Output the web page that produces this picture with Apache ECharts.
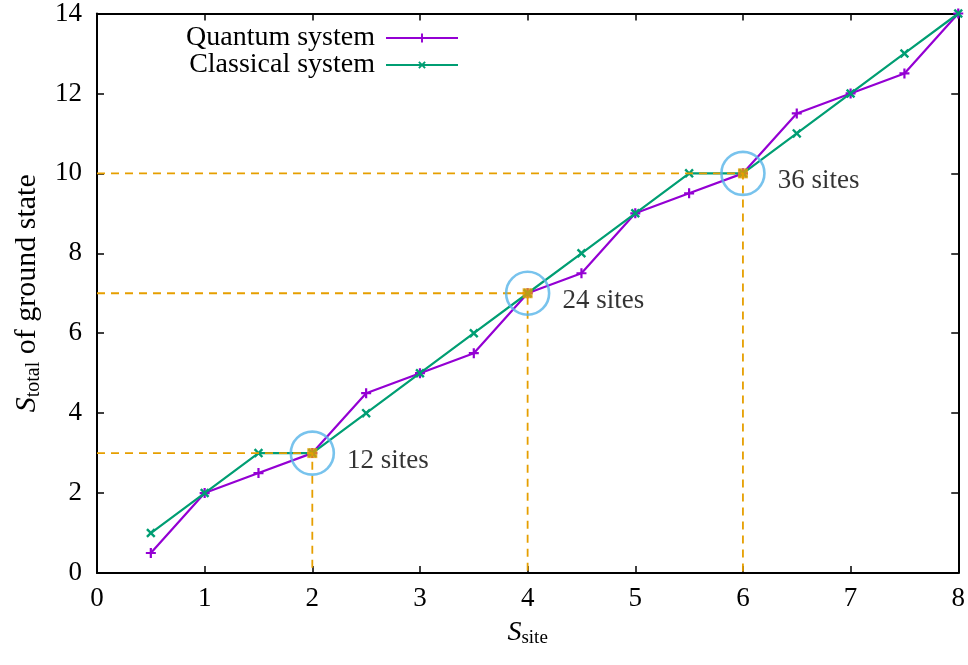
<!doctype html>
<html>
<head>
<meta charset="utf-8">
<title>S_total vs S_site</title>
<style>
  html, body { margin: 0; padding: 0; background: #fff; }
  #chart { width: 968px; height: 665px; }
</style>
</head>
<body>
<div id="chart"></div>
<script src="https://cdn.jsdelivr.net/npm/echarts@6/dist/echarts.min.js"></script>
<script>
// data
var sSite = [0.5, 1, 1.5, 2, 2.5, 3, 3.5, 4, 4.5, 5, 5.5, 6, 6.5, 7, 7.5, 8];
var quantum = [0.5, 2, 2.5, 3, 4.5, 5, 5.5, 7, 7.5, 9, 9.5, 10, 11.5, 12, 12.5, 14];
var classical = [1, 2, 3, 3, 4, 5, 6, 7, 8, 9, 10, 10, 11, 12, 13, 14];
var sizeX = [2, 4, 6];
var sizeY = [3, 7, 10];
var sizeNames = ['12 sites', '24 sites', '36 sites'];

var FONT = 'Liberation Serif';
var FS = 27;
var plus = 'path://M3.9,0H6.1V3.9H10V6.1H6.1V10H3.9V6.1H0V3.9H3.9Z';

function pairs(xs, ys) {
  return xs.map(function (x, i) { return [x, ys[i]]; });
}

// dashed guide lines: from y axis to the point, then down to x axis
var guides = sizeX.map(function (x, i) {
  return {
    type: 'line',
    data: [[0, sizeY[i]], [x, sizeY[i]], [x, 0]],
    symbol: 'none',
    silent: true,
    z: 3,
    lineStyle: { color: '#E69F00', width: 1.8, type: [8, 6] }
  };
});

var myChart = echarts.init(document.getElementById('chart'));
var option = {
  animation: false,
  textStyle: { fontFamily: FONT },
  grid: { left: 97, right: 9, top: 13, bottom: 92 },
  legend: [
    {
      data: ['Quantum system'],
      right: 504, top: 19,
      align: 'right',
      itemWidth: 72, itemHeight: 11, itemGap: 0,
      textStyle: { fontFamily: FONT, fontSize: FS + 1, color: '#000', padding: [0, 6, 0, 0] }
    },
    {
      data: ['Classical system'],
      right: 504, top: 46,
      align: 'right',
      itemWidth: 72, itemHeight: 11, itemGap: 0,
      textStyle: { fontFamily: FONT, fontSize: FS + 1, color: '#000', padding: [0, 6, 0, 0] }
    }
  ],
  xAxis: [
    {
      type: 'value', min: 0, max: 8, interval: 1,
      name: '{i|S}{sub|site}',
      nameLocation: 'middle', nameGap: 44,
      nameTextStyle: {
        rich: {
          i: { fontFamily: FONT, fontStyle: 'italic', fontSize: FS + 1, color: '#000' },
          sub: { fontFamily: FONT, fontSize: 19, color: '#000', padding: [12, 0, 0, 0] }
        }
      },
      axisLine: { onZero: false, lineStyle: { color: '#000', width: 2 } },
      axisTick: { inside: true, length: 7, lineStyle: { color: '#000', width: 1.5 } },
      axisLabel: { color: '#000', fontSize: FS, margin: 12, fontFamily: FONT },
      splitLine: { show: false }
    },
    {
      type: 'value', min: 0, max: 8, interval: 1, position: 'top',
      axisLine: { onZero: false, lineStyle: { color: '#000', width: 2 } },
      axisTick: { inside: true, length: 7, lineStyle: { color: '#000', width: 1.5 } },
      axisLabel: { show: false },
      splitLine: { show: false }
    }
  ],
  yAxis: [
    {
      type: 'value', min: 0, max: 14, interval: 2,
      name: '{i|S}{sub|total}{t| of ground state}',
      nameLocation: 'middle', nameGap: 50, nameRotate: 90,
      nameTextStyle: {
        fontFamily: FONT, fontSize: 30, color: '#000',
        rich: {
          i: { fontFamily: FONT, fontStyle: 'italic', fontSize: 30, color: '#000' },
          sub: { fontFamily: FONT, fontSize: 20, color: '#000', padding: [13, 0, 0, 0] },
          t: { fontFamily: FONT, fontSize: 30, color: '#000' }
        }
      },
      axisLine: { onZero: false, lineStyle: { color: '#000', width: 2 } },
      axisTick: { inside: true, length: 7, lineStyle: { color: '#000', width: 1.5 } },
      axisLabel: { color: '#000', fontSize: FS, margin: 15, fontFamily: FONT },
      splitLine: { show: false }
    },
    {
      type: 'value', min: 0, max: 14, interval: 2, position: 'right',
      axisLine: { onZero: false, lineStyle: { color: '#000', width: 2 } },
      axisTick: { inside: true, length: 7, lineStyle: { color: '#000', width: 1.5 } },
      axisLabel: { show: false },
      splitLine: { show: false }
    }
  ],
  series: [
    {
      name: 'Quantum system',
      type: 'line',
      data: pairs(sSite, quantum),
      symbol: plus, symbolSize: 10,
      z: 2,
      itemStyle: { color: '#9400D3' },
      lineStyle: { color: '#9400D3', width: 2.2 }
    },
    {
      name: 'Classical system',
      type: 'line',
      data: pairs(sSite, classical),
      symbol: plus, symbolSize: 11, symbolRotate: 45,
      z: 2,
      itemStyle: { color: '#009E73' },
      lineStyle: { color: '#009E73', width: 2.2 }
    }
  ].concat(guides).concat([
    {
      type: 'scatter',
      data: pairs(sizeX, sizeY),
      symbol: 'rect', symbolSize: 10,
      z: 4, silent: true,
      itemStyle: { color: '#E69F00' }
    },
    {
      type: 'scatter',
      data: sizeX.map(function (x, i) { return { value: [x, sizeY[i]], name: sizeNames[i] }; }),
      symbol: 'circle', symbolSize: 43,
      z: 5, silent: true,
      itemStyle: { color: 'rgba(0,0,0,0)', borderColor: '#56B4E9', borderWidth: 2.6 },
      label: {
        show: true, position: 'right', distance: 12, offset: [0, 8],
        formatter: '{b}', fontFamily: FONT, fontSize: FS, color: '#000'
      }
    }
  ])
};
myChart.setOption(option);
</script>
</body>
</html>
